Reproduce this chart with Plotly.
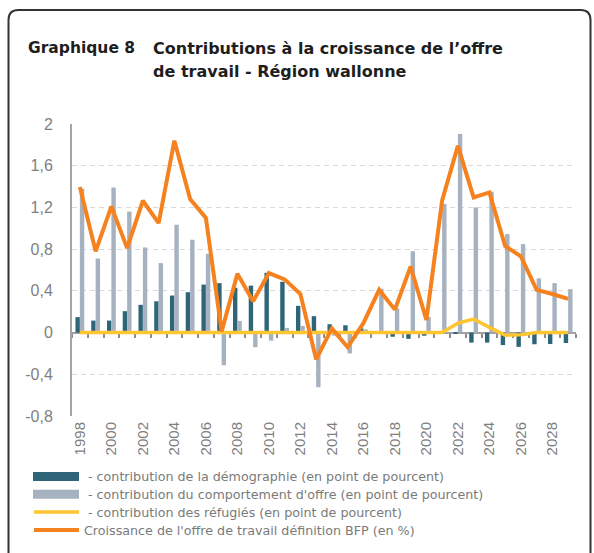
import plotly.graph_objects as go

years = [str(y) for y in range(1998, 2030)]
demographie = [0.148, 0.115, 0.115, 0.205, 0.266, 0.30, 0.355, 0.387, 0.46, 0.474,
               0.43, 0.45, 0.573, 0.487, 0.256, 0.157, 0.08, 0.07, 0.04, 0.0,
               -0.04, -0.06, -0.03, -0.01, -0.01, -0.096, -0.096, -0.12, -0.137, -0.112,
               -0.11, -0.10]
comportement = [1.38, 0.71, 1.39, 1.16, 0.816, 0.666, 1.034, 0.89, 0.755, -0.313,
                0.112, -0.14, -0.077, 0.045, 0.064, -0.524, -0.03, -0.20, 0.03, 0.42,
                0.23, 0.78, 0.15, 1.232, 1.904, 1.20, 1.35, 0.944, 0.848, 0.52,
                0.474, 0.416]
refugies = [0]*24 + [0.09, 0.13, 0.05, -0.025, -0.02, 0.0, 0.0, 0.0]
croissance = [1.395, 0.78, 1.21, 0.81, 1.264, 1.05, 1.84, 1.28, 1.10, 0.01,
              0.563, 0.30, 0.57, 0.51, 0.37, -0.256, 0.04, -0.14, 0.09, 0.41,
              0.22, 0.633, 0.12, 1.267, 1.79, 1.296, 1.344, 0.83, 0.73, 0.41,
              0.37, 0.323]

y_ticks = [-0.8, -0.4, 0, 0.4, 0.8, 1.2, 1.6, 2]
y_ticktext = ["-0,8", "-0,4", "0", "0,4", "0,8", "1,2", "1,6", "2"]
x_ticks = years[::2]

names = [" - contribution de la démographie (en point de pourcent)",
         " - contribution du comportement d'offre (en point de pourcent)",
         " - contribution des réfugiés (en point de pourcent)",
         "Croissance de l'offre de travail définition BFP (en %)"]
colors = ["#2E6579", "#A7B2C0", "#FDC52F", "#F5821F"]

title_num = "Graphique 8"
title_lines = ["Contributions à la croissance de l’offre", "de travail - Région wallonne"]

W, H = 594, 553
L, R, T, B = 72, 18, 124, 137
PW, PH = W - L - R, H - T - B
YMIN, YMAX = y_ticks[0], y_ticks[-1]


def px(x):
    return (x - L) / PW


def py(y):
    return (T + PH - y) / PH


fig = go.Figure()
fig.add_trace(go.Bar(x=years, y=demographie, name=names[0], marker_color=colors[0],
                     marker_line_width=0, showlegend=False))
fig.add_trace(go.Bar(x=years, y=comportement, name=names[1], marker_color=colors[1],
                     marker_line_width=0, showlegend=False))
fig.add_trace(go.Scatter(x=years, y=refugies, name=names[2], mode="lines",
                         line=dict(color=colors[2], width=3.5), showlegend=False))
fig.add_trace(go.Scatter(x=years, y=croissance, name=names[3], mode="lines",
                         line=dict(color=colors[3], width=4), showlegend=False))

font_family = "Liberation Sans, Arial, sans-serif"
title_family = "DejaVu Sans, sans-serif"
grey = "#7F7F7F"

fig.update_layout(
    width=W, height=H, autosize=False,
    margin=dict(l=L, r=R, t=T, b=B, pad=0),
    paper_bgcolor="white", plot_bgcolor="white",
    barmode="group", bargap=0.44, bargroupgap=0,
    font=dict(family=font_family, color=grey),
    xaxis=dict(type="category", categoryorder="array", categoryarray=years,
               tickmode="array", tickvals=x_ticks, ticktext=x_ticks,
               tickangle=-90, ticks="", showline=False, showgrid=False,
               zeroline=False, tickfont=dict(size=15, color=grey),
               ticklabelstandoff=2),
    xaxis2=dict(overlaying="x", anchor="free",
                position=(0 - YMIN) / (YMAX - YMIN),
                range=[-0.5, len(years) - 0.5], tickmode="array",
                tickvals=[i + 0.5 for i in range(-1, len(years))],
                showticklabels=False, ticks="outside", ticklen=4, tickwidth=2,
                tickcolor="#8C8C8C", showline=True, linecolor="#A0A0A0",
                linewidth=2, showgrid=False, zeroline=False, layer="below traces"),
    yaxis=dict(range=[YMIN, YMAX], tickmode="array", tickvals=y_ticks,
               ticktext=y_ticktext, showline=True, linecolor="#A6A6A6",
               linewidth=2, showgrid=True, gridcolor="#D9D9D9", gridwidth=1,
               griddash="5px,4px", zeroline=False, ticks="",
               tickfont=dict(size=16, color=grey), ticklabelstandoff=14),
)

# invisible trace to activate xaxis2
fig.add_trace(go.Scatter(x=[-0.5, len(years) - 0.5], y=[0, 0], xaxis="x2",
                         mode="lines", line=dict(width=0), hoverinfo="skip",
                         showlegend=False))

# frame with rounded corners
x0, x1, y0, y1 = px(8.5), px(590.5), py(10), py(565)
rx, ry = 10 / PW, 10 / PH
path = (f"M {x0},{y1} L {x0},{y0 - ry} Q {x0},{y0} {x0 + rx},{y0} "
        f"L {x1 - rx},{y0} Q {x1},{y0} {x1},{y0 - ry} L {x1},{y1}")
shapes = [dict(type="path", xref="paper", yref="paper", path=path,
               line=dict(color="#333333", width=2))]

# legend
leg_rows = [476.5, 494.3, 512, 530]
for i, yc in enumerate(leg_rows):
    if i < 2:
        shapes.append(dict(type="rect", xref="paper", yref="paper",
                           x0=px(33), x1=px(79), y0=py(yc - 4.5), y1=py(yc + 4.5),
                           fillcolor=colors[i], line=dict(width=0)))
    else:
        shapes.append(dict(type="line", xref="paper", yref="paper",
                           x0=px(34), x1=px(79), y0=py(yc), y1=py(yc),
                           line=dict(color=colors[i], width=3.5 if i == 2 else 4)))

annotations = []
for i, yc in enumerate(leg_rows):
    xl = 86 if i < 3 else 82
    annotations.append(dict(xref="paper", yref="paper", x=px(xl), y=py(yc),
                            xanchor="left", yanchor="middle", showarrow=False,
                            text=names[i].strip(),
                            font=dict(family=title_family, size=12.7, color="#7A7A7A")))

annotations.append(dict(xref="paper", yref="paper", x=px(26), y=py(48),
                        xanchor="left", yanchor="middle", showarrow=False,
                        text=f"<b>{title_num}</b>",
                        font=dict(family=title_family, size=15.5, color="#1E1E1E")))
for j, line in enumerate(title_lines):
    annotations.append(dict(xref="paper", yref="paper", x=px(151), y=py(48 + 23 * j),
                            xanchor="left", yanchor="middle", showarrow=False,
                            text=f"<b>{line}</b>",
                            font=dict(family=title_family, size=16, color="#1E1E1E")))

fig.update_layout(shapes=shapes, annotations=annotations)

fig.write_html("out.html", config={"displayModeBar": False},
               post_script="document.body.style.margin='0';")
